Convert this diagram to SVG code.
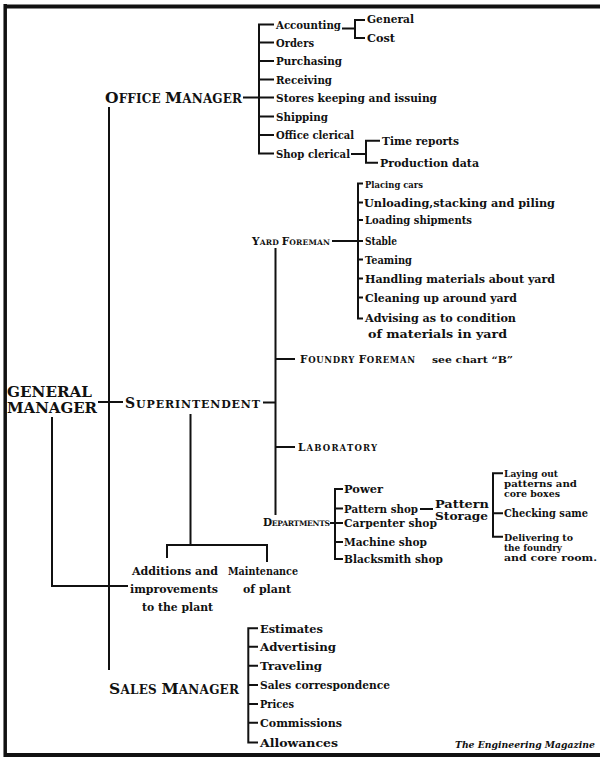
<svg xmlns="http://www.w3.org/2000/svg" width="600" height="758" viewBox="0 0 600 758">
<style>
text{font-family:"DejaVu Serif","Liberation Serif",serif;font-weight:bold;fill:#111}
.t{font-size:10.5px}
.tn{font-size:10px}
.tt{font-size:9.4px}
.gm{font-size:14.5px}
.L1{font-size:15.5px}.S1{font-size:12px}
.L2{font-size:14px}.S2{font-size:11px}
.L3{font-size:10.5px}.S3{font-size:8.5px}.S4{font-size:7.6px}
.note{font-size:10px}
.mag{font-size:9.5px;font-style:italic}
.ln{fill:none;stroke:#111;stroke-width:2}
.frame{fill:none;stroke:#111}
</style>
<rect width="600" height="758" fill="#fff"/>
<g id="frame">
<path class="frame" d="M4,6.5 H600" stroke-width="4"/>
<path class="frame" d="M5.2,4 V757" stroke-width="3.5"/>
<path class="frame" d="M4,755 H600" stroke-width="4"/>
</g>
<g id="connectors">
<path class="ln" d="M243,97.5 H274 M274,24.5 H259 V153.5 H274 M259,42.5 H274 M259,61 H274 M259,79.5 H274 M259,116.5 H274 M259,135 H274"/>
<path class="ln" d="M342,28.5 H355 M365,20 H355 V38 H365"/>
<path class="ln" d="M351,154 H366 M380,140.7 H366 V162.7 H378"/>
<path class="ln" d="M109,107 V670"/>
<path class="ln" d="M98,402 H123"/>
<path class="ln" d="M52,417 V586 H128"/>
<path class="ln" d="M263,402.5 H275.5 M275.5,248 V515 M275.5,359 H295 M275.5,447 H295"/>
<path class="ln" d="M190.5,414 V545 M167,558 V545 H267 V562"/>
<path class="ln" d="M332,241 H363 M363,183.5 H358 V318.5 H363 M358,202.5 H363 M358,220 H363 M358,259.5 H363 M358,278.5 H363 M358,297.5 H363"/>
<path class="ln" d="M330,523 H343 M343,489 H335 V559 H343 M335,508.5 H343 M335,542 H343"/>
<path class="ln" d="M420,509 H433"/>
<path class="ln" d="M503,473.3 H493 V536.7 H503 M493,513.3 H503"/>
<path class="ln" d="M258,628.3 H248.3 V742.5 H258 M248.3,646.7 H258 M248.3,665.7 H258 M248.3,685 H258 M248.3,704 H258 M248.3,722.7 H258"/>
</g>
<g id="general-manager">
<text class="gm" x="7" y="397" textLength="85" lengthAdjust="spacingAndGlyphs">GENERAL</text>
<text class="gm" x="7" y="413" textLength="90" lengthAdjust="spacingAndGlyphs">MANAGER</text>
</g>
<g id="office-manager">
<text x="105" y="103" textLength="137"><tspan class="L1">O</tspan><tspan class="S1">FFICE </tspan><tspan class="L1">M</tspan><tspan class="S1">ANAGER</tspan></text>
</g>
<g id="office-items">
<text class="t" x="276" y="28.5" textLength="65" lengthAdjust="spacingAndGlyphs">Accounting</text>
<text class="t" x="276" y="46.5" textLength="38" lengthAdjust="spacingAndGlyphs">Orders</text>
<text class="t" x="276" y="65" textLength="66" lengthAdjust="spacingAndGlyphs">Purchasing</text>
<text class="t" x="276" y="83.5" textLength="56" lengthAdjust="spacingAndGlyphs">Receiving</text>
<text class="t" x="276" y="101.5" textLength="161" lengthAdjust="spacingAndGlyphs">Stores keeping and issuing</text>
<text class="t" x="276" y="120.5" textLength="52" lengthAdjust="spacingAndGlyphs">Shipping</text>
<text class="t" x="276" y="139" textLength="78" lengthAdjust="spacingAndGlyphs">Office clerical</text>
<text class="t" x="276" y="157.5" textLength="74" lengthAdjust="spacingAndGlyphs">Shop clerical</text>
</g>
<g id="accounting-items">
<text class="t" x="367" y="23" textLength="47" lengthAdjust="spacingAndGlyphs">General</text>
<text class="t" x="367" y="41.5" textLength="28" lengthAdjust="spacingAndGlyphs">Cost</text>
</g>
<g id="shop-clerical-items">
<text class="t" x="382" y="144.5" textLength="77" lengthAdjust="spacingAndGlyphs">Time reports</text>
<text class="t" x="380" y="166.5" textLength="99" lengthAdjust="spacingAndGlyphs">Production data</text>
</g>
<g id="yard-foreman">
<text x="252" y="244.5" textLength="78"><tspan class="L3">Y</tspan><tspan class="S4">ARD </tspan><tspan class="L3">F</tspan><tspan class="S4">OREMAN</tspan></text>
</g>
<g id="yard-items">
<text class="tn" x="365" y="187.5" textLength="58" lengthAdjust="spacingAndGlyphs">Placing cars</text>
<text class="t" x="364" y="206.5" textLength="191" lengthAdjust="spacingAndGlyphs">Unloading,stacking and piling</text>
<text class="t" x="365" y="224" textLength="107" lengthAdjust="spacingAndGlyphs">Loading shipments</text>
<text class="t" x="365" y="245" textLength="32" lengthAdjust="spacingAndGlyphs">Stable</text>
<text class="t" x="365" y="263.5" textLength="47" lengthAdjust="spacingAndGlyphs">Teaming</text>
<text class="t" x="365" y="282.5" textLength="190" lengthAdjust="spacingAndGlyphs">Handling materials about yard</text>
<text class="t" x="365" y="301.5" textLength="152" lengthAdjust="spacingAndGlyphs">Cleaning up around yard</text>
<text class="t" x="365" y="322" textLength="151" lengthAdjust="spacingAndGlyphs">Advising as to condition</text>
<text class="t" x="368" y="338" textLength="139" lengthAdjust="spacingAndGlyphs">of materials in yard</text>
</g>
<g id="foundry-foreman">
<text x="300" y="363" textLength="115"><tspan class="L3">F</tspan><tspan class="S3">OUNDRY </tspan><tspan class="L3">F</tspan><tspan class="S3">OREMAN</tspan></text>
<text class="note" x="432" y="363" textLength="81" lengthAdjust="spacingAndGlyphs">see chart “B”</text>
</g>
<g id="superintendent">
<text x="125" y="408" textLength="135"><tspan class="L2">S</tspan><tspan class="S2">UPERINTENDENT</tspan></text>
</g>
<g id="laboratory">
<text x="298" y="451" textLength="79"><tspan class="L3">L</tspan><tspan class="S3">ABORATORY</tspan></text>
</g>
<g id="departments">
<text x="263" y="525.5" textLength="67"><tspan class="L3">D</tspan><tspan class="S4">EPARTMENTS</tspan></text>
</g>
<g id="department-items">
<text class="t" x="344" y="493" textLength="39" lengthAdjust="spacingAndGlyphs">Power</text>
<text class="t" x="344" y="512.5" textLength="74" lengthAdjust="spacingAndGlyphs">Pattern shop</text>
<text class="t" x="344" y="527" textLength="93" lengthAdjust="spacingAndGlyphs">Carpenter shop</text>
<text class="t" x="344" y="546" textLength="83" lengthAdjust="spacingAndGlyphs">Machine shop</text>
<text class="t" x="344" y="563" textLength="99" lengthAdjust="spacingAndGlyphs">Blacksmith shop</text>
</g>
<g id="pattern-storage">
<text class="t" x="435" y="507.5" textLength="54" lengthAdjust="spacingAndGlyphs">Pattern</text>
<text class="t" x="435" y="519.5" textLength="53" lengthAdjust="spacingAndGlyphs">Storage</text>
</g>
<g id="pattern-storage-items">
<text class="tt" x="504" y="477" textLength="54" lengthAdjust="spacingAndGlyphs">Laying out</text>
<text class="tt" x="504" y="487" textLength="73" lengthAdjust="spacingAndGlyphs">patterns and</text>
<text class="tt" x="504" y="496.5" textLength="56" lengthAdjust="spacingAndGlyphs">core boxes</text>
<text class="t" x="504" y="517" textLength="84" lengthAdjust="spacingAndGlyphs">Checking same</text>
<text class="tt" x="504" y="540.5" textLength="69" lengthAdjust="spacingAndGlyphs">Delivering to</text>
<text class="tt" x="504" y="550.5" textLength="58" lengthAdjust="spacingAndGlyphs">the foundry</text>
<text class="tt" x="504" y="560.5" textLength="93" lengthAdjust="spacingAndGlyphs">and core room.</text>
</g>
<g id="additions">
<text class="t" x="132" y="575" textLength="86" lengthAdjust="spacingAndGlyphs">Additions and</text>
<text class="t" x="130" y="593" textLength="88" lengthAdjust="spacingAndGlyphs">improvements</text>
<text class="t" x="142" y="611" textLength="71" lengthAdjust="spacingAndGlyphs">to the plant</text>
</g>
<g id="maintenance">
<text class="t" x="228" y="575" textLength="70" lengthAdjust="spacingAndGlyphs">Maintenance</text>
<text class="t" x="243" y="593" textLength="48" lengthAdjust="spacingAndGlyphs">of plant</text>
</g>
<g id="sales-manager">
<text x="109" y="694" textLength="130"><tspan class="L1">S</tspan><tspan class="S1">ALES </tspan><tspan class="L1">M</tspan><tspan class="S1">ANAGER</tspan></text>
</g>
<g id="sales-items">
<text class="t" x="260" y="632.5" textLength="63" lengthAdjust="spacingAndGlyphs">Estimates</text>
<text class="t" x="260" y="651" textLength="76" lengthAdjust="spacingAndGlyphs">Advertising</text>
<text class="t" x="260" y="670" textLength="62" lengthAdjust="spacingAndGlyphs">Traveling</text>
<text class="t" x="260" y="689" textLength="130" lengthAdjust="spacingAndGlyphs">Sales correspondence</text>
<text class="t" x="260" y="708" textLength="34" lengthAdjust="spacingAndGlyphs">Prices</text>
<text class="t" x="260" y="727" textLength="82" lengthAdjust="spacingAndGlyphs">Commissions</text>
<text class="t" x="260" y="746.5" textLength="78" lengthAdjust="spacingAndGlyphs">Allowances</text>
</g>
<g id="credit">
<text class="mag" x="455" y="748" textLength="140" lengthAdjust="spacingAndGlyphs">The Engineering Magazine</text>
</g>
</svg>
